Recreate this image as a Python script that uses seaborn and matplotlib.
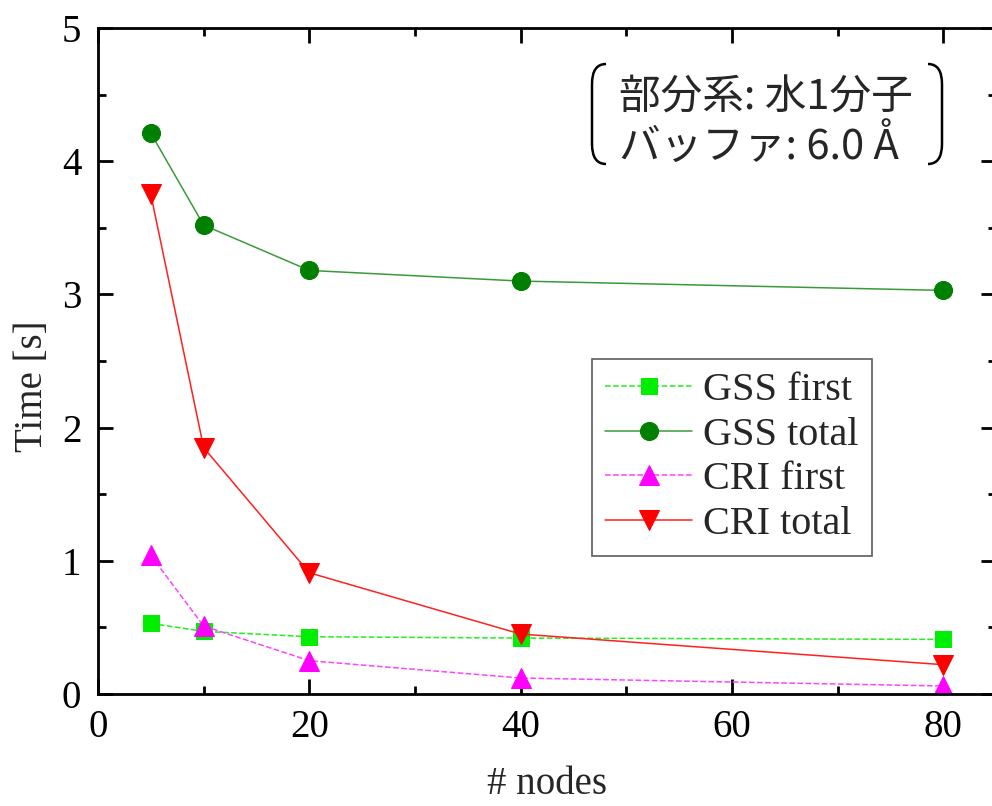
import seaborn as sns
import matplotlib.pyplot as plt
import pandas as pd
from matplotlib.path import Path
from matplotlib.patches import PathPatch
from matplotlib.ticker import MultipleLocator

sns.set_style("ticks")
plt.rcParams['font.family'] = ['Liberation Serif', 'DejaVu Serif']

# data
nodes = [5, 10, 20, 40, 80]
gss_first = [0.53, 0.47, 0.43, 0.42, 0.41]
gss_total = [4.21, 3.52, 3.18, 3.10, 3.03]
cri_first = [1.04, 0.51, 0.25, 0.12, 0.06]
cri_total = [3.75, 1.85, 0.91, 0.45, 0.22]
names = ["GSS first", "GSS total", "CRI first", "CRI total"]

df = pd.DataFrame({"nodes": nodes, "GSS first": gss_first, "GSS total": gss_total,
                   "CRI first": cri_first, "CRI total": cri_total})
long_df = df.melt(id_vars="nodes", var_name="series", value_name="time")

styles = {
    "GSS first": dict(color="#00ee00", marker="s", ls="--", ms=11),
    "GSS total": dict(color="#008000", marker="o", ls="-", ms=13),
    "CRI first": dict(color="#ff00ff", marker="^", ls="--", ms=15),
    "CRI total": dict(color="#ff0000", marker="v", ls="-", ms=15),
}
line_colors = {"GSS first": "#22ee22", "GSS total": "#3a9a3a",
               "CRI first": "#ff44ff", "CRI total": "#ff2020"}

fig = plt.figure(figsize=(9.92, 8.06), dpi=100)
ax = fig.add_axes([98 / 992, 112 / 806, 898 / 992, 666 / 806])

for name in names:
    st = styles[name]
    sub = long_df[long_df["series"] == name]
    sns.lineplot(data=sub, x="nodes", y="time", ax=ax, color=line_colors[name],
                 linestyle=st["ls"], linewidth=1.1, marker=st["marker"],
                 markersize=st["ms"], markerfacecolor=st["color"],
                 markeredgecolor=st["color"], label=name)

ax.set_xlim(0, 85)
ax.set_ylim(0, 5)
ax.xaxis.set_major_locator(MultipleLocator(20))
ax.xaxis.set_minor_locator(MultipleLocator(10))
ax.yaxis.set_major_locator(MultipleLocator(1))
ax.yaxis.set_minor_locator(MultipleLocator(0.5))
ax.tick_params(which="both", direction="in", top=True, right=True, width=2, colors="black")
ax.tick_params(which="major", length=11, labelsize=28)
ax.tick_params(which="minor", length=6)
ax.tick_params(axis="y", pad=12)
ax.tick_params(axis="x", pad=11)
for sp in ax.spines.values():
    sp.set_linewidth(2)
    sp.set_color("black")

ax.set_xlabel("# nodes", fontsize=28)
ax.xaxis.label.set_va("center")
ax.xaxis.set_label_coords(0.5, (694 - 785) / 666)
ax.set_ylabel("Time [s]", fontsize=28)
ax.yaxis.label.set_va("center")
ax.yaxis.set_label_coords((33 - 98) / 898, (694 - 386) / 666)

leg = ax.legend(loc="upper left", bbox_to_anchor=((592 - 98) / 898, (694 - 359) / 666),
                fontsize=29, frameon=True, fancybox=False, edgecolor="#333333",
                handlelength=2.15, handletextpad=0.28, labelspacing=0.18, borderpad=0.33,
                borderaxespad=0)
leg.get_frame().set_linewidth(1.2)

# annotation text with brackets
fig.text(619 / 992, 1 - 98 / 806, "部分系: 水1分子", fontsize=30,
         family=["Noto Sans CJK JP", "DejaVu Sans"], va="center", ha="left")
fig.text(619 / 992, 1 - 146 / 806, "バッファ: 6.0 Å", fontsize=30,
         family=["Noto Sans CJK JP", "DejaVu Sans"], va="center", ha="left")


def bracket(x_edge, x_in, top, bot):
    r = 20
    verts = [(x_in, top), (x_edge, top), (x_edge, top + r), (x_edge, bot - r),
             (x_edge, bot), (x_in, bot)]
    codes = [Path.MOVETO, Path.CURVE3, Path.CURVE3, Path.LINETO, Path.CURVE3, Path.CURVE3]
    verts = [(vx / 992, 1 - vy / 806) for vx, vy in verts]
    fig.add_artist(PathPatch(Path(verts, codes), fill=False, lw=1.8, color="black",
                             transform=fig.transFigure))


bracket(592, 606, 64, 164)
bracket(942, 928, 64, 164)

fig.savefig("out.png", dpi=100)
